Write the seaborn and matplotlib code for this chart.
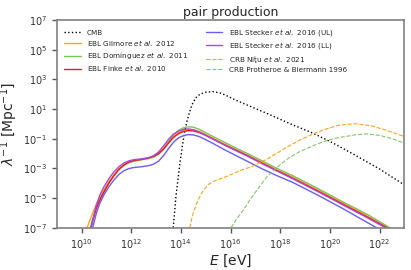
import numpy as np
import pandas as pd
import matplotlib
matplotlib.use("Agg")
import matplotlib.pyplot as plt
import seaborn as sns

# log10(E / eV) and log10(lambda^-1 / Mpc^-1)
cmb_logE = [13.69, 13.75, 13.8, 13.88, 13.96, 14.06, 14.16, 14.25, 14.34, 14.45, 14.6, 14.77, 15.0, 15.3, 15.6, 15.9, 16.2, 16.8, 17.45, 18.4, 19.33, 20.13, 21.0, 22.0, 22.95]
cmb_logL = [-7.0, -5.9, -4.9, -3.8, -2.66, -1.5, -0.45, 0.2, 0.75, 1.3, 1.75, 2.0, 2.13, 2.17, 2.07, 1.85, 1.6, 1.17, 0.71, 0.0, -0.64, -1.3, -2.1, -3.05, -4.07]

# common energy grid for the EBL curves
ebl_logE = [10.2, 10.35, 10.45, 10.6, 10.75, 10.9, 11.1, 11.3, 11.5, 11.7, 11.9, 12.1, 12.4, 12.7, 12.9,
            13.1, 13.3, 13.5, 13.7, 13.9, 14.1, 14.3, 14.5, 14.75, 15.0, 15.3, 15.7, 16.2, 16.7, 17.2,
            17.8, 18.5, 19.5, 20.5, 21.5, 22.5]
gil_logL = [-7.1, -6.45, -6.0, -5.4, -4.9, -4.45, -3.9, -3.45, -3.05, -2.78, -2.6, -2.5, -2.42, -2.32, -2.2,
            -1.98, -1.65, -1.22, -0.85, -0.6, -0.45, -0.38, -0.4, -0.52, -0.72, -0.98, -1.32, -1.72, -2.12, -2.54,
            -3.05, -3.6, -4.45, -5.33, -6.2, -7.15]
dom_logL = [-8.2, -7.0, -6.4, -5.6, -5.05, -4.6, -4.0, -3.5, -3.1, -2.82, -2.63, -2.52, -2.43, -2.35, -2.25,
            -2.05, -1.7, -1.2, -0.75, -0.45, -0.27, -0.2, -0.23, -0.38, -0.6, -0.86, -1.2, -1.62, -2.02, -2.44,
            -2.95, -3.5, -4.35, -5.25, -6.1, -7.1]
fin_logL = [-8.3, -7.2, -6.55, -5.7, -5.1, -4.6, -4.0, -3.5, -3.08, -2.78, -2.58, -2.48, -2.4, -2.3, -2.2,
            -2.02, -1.72, -1.3, -0.92, -0.67, -0.52, -0.46, -0.48, -0.6, -0.78, -1.03, -1.37, -1.77, -2.17, -2.6,
            -3.1, -3.67, -4.52, -5.4, -6.28, -7.2]
stu_logL = [-8.8, -7.6, -7.0, -6.0, -5.3, -4.8, -4.25, -3.8, -3.42, -3.17, -3.02, -2.95, -2.9, -2.82, -2.72,
            -2.52, -2.15, -1.68, -1.25, -0.95, -0.8, -0.73, -0.75, -0.87, -1.07, -1.33, -1.7, -2.13, -2.55, -2.98,
            -3.45, -3.95, -4.8, -5.7, -6.65, -7.6]
stl_logL = [-8.5, -7.3, -6.5, -5.45, -4.75, -4.25, -3.7, -3.25, -2.9, -2.65, -2.5, -2.42, -2.37, -2.28, -2.15,
            -1.9, -1.5, -1.05, -0.7, -0.5, -0.38, -0.35, -0.4, -0.56, -0.78, -1.04, -1.39, -1.8, -2.2, -2.63,
            -3.13, -3.7, -4.56, -5.45, -6.33, -7.25]

nitu_logE = [14.36, 14.45, 14.55, 14.7, 14.9, 15.1, 15.35, 15.6, 15.84, 16.4, 16.91, 17.5, 18.0, 18.4, 18.79, 19.3, 19.73, 20.3, 20.7, 21.07, 21.7, 22.3, 23.0]
nitu_logL = [-7.0, -6.3, -5.75, -5.1, -4.5, -4.1, -3.85, -3.7, -3.55, -3.15, -2.85, -2.35, -1.85, -1.45, -1.1, -0.7, -0.41, -0.12, -0.03, 0.0, -0.15, -0.45, -0.86]

prot_logE = [16.02, 16.25, 16.5, 16.75, 17.05, 17.5, 18.0, 18.39, 18.79, 19.3, 19.73, 20.3, 21.0, 21.47, 22.0, 22.5, 23.0]
prot_logL = [-7.0, -6.4, -5.85, -5.2, -4.5, -3.5, -2.75, -2.25, -1.87, -1.5, -1.2, -0.95, -0.75, -0.68, -0.78, -1.0, -1.31]

curves = [
    ("CMB", cmb_logE, cmb_logL, "black", ":", 1.0),
    ("EBL Gilmore $et\\ al.$ 2012", ebl_logE, gil_logL, "#ffa31a", "-", 1.0),
    ("EBL Dom\u00ednguez $et\\ al.$ 2011", ebl_logE, dom_logL, "#7dc25a", "-", 1.0),
    ("EBL Finke $et\\ al.$ 2010", ebl_logE, fin_logL, "#ff1010", "-", 1.0),
    ("EBL Stecker $et\\ al.$ 2016 (UL)", ebl_logE, stu_logL, "#6b5cf5", "-", 1.0),
    ("EBL Stecker $et\\ al.$ 2016 (LL)", ebl_logE, stl_logL, "#a64ae0", "-", 1.0),
    ("CRB Ni\u0163u $et\\ al.$ 2021", nitu_logE, nitu_logL, "#ffa31a", "--", 0.8),
    ("CRB Protheroe & Biermann 1996", prot_logE, prot_logL, "#86c46a", "--", 0.8),
]

sns.set_style("ticks")
plt.rcParams["font.family"] = ["DejaVu Sans"]
plt.rcParams["mathtext.fontset"] = "dejavusans"

fig, ax = plt.subplots(figsize=(4.11, 2.70), dpi=100)
fig.subplots_adjust(left=0.138, right=0.984, top=0.926, bottom=0.157)

for label, le, ll, col, ls, lw in curves:
    df = pd.DataFrame({"E": 10.0 ** np.array(le), "L": 10.0 ** np.array(ll)})
    sns.lineplot(data=df, x="E", y="L", ax=ax, color=col, linestyle=ls, lw=lw, label=label)

ax.set_xscale("log")
ax.set_yscale("log")
ax.set_xlim(1e9, 1e23)
ax.set_ylim(1e-7, 1e7)
ax.set_xticks([10.0 ** k for k in range(10, 23, 2)])
ax.set_yticks([10.0 ** k for k in range(-7, 8, 2)])
ax.minorticks_off()
ax.tick_params(labelsize=7, colors="#555555", length=3.5, width=1, labelcolor="#333333")
for s in ax.spines.values():
    s.set_color("#808080")
    s.set_linewidth(1.2)

ax.set_xlabel("$E$ [eV]", fontsize=10, labelpad=1)
ax.set_ylabel("$\\lambda^{-1}$ [Mpc$^{-1}$]", fontsize=10, labelpad=2)
ax.set_title("pair production", fontsize=9, pad=3)

ax.legend(loc="upper left", ncol=2, frameon=False, fontsize=5.2,
          handlelength=2.3, handletextpad=0.9, columnspacing=2.4, labelspacing=0.3,
          borderaxespad=0.6)

fig.savefig("out.png", dpi=100)
